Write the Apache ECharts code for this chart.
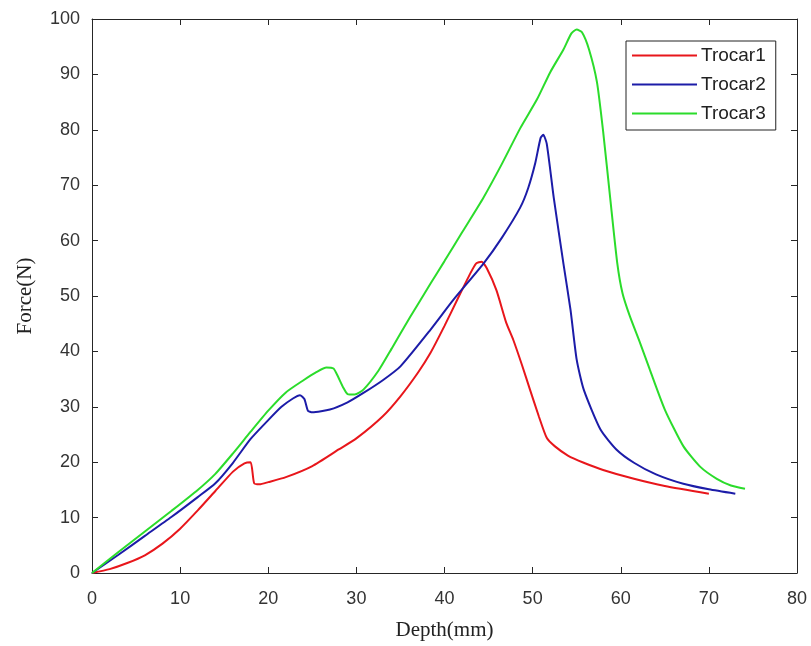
<!DOCTYPE html>
<html>
<head>
<meta charset="utf-8">
<script src="https://cdn.jsdelivr.net/npm/echarts@6/dist/echarts.min.js"></script>
<style>html,body{margin:0;padding:0;background:#fff}#c{width:811px;height:646px}</style>
</head>
<body>
<div id="c"></div>
<script>
var seriesNames = ['Trocar1', 'Trocar2', 'Trocar3'];
var xTicks = [0, 10, 20, 30, 40, 50, 60, 70, 80];
var yTicks = [0, 10, 20, 30, 40, 50, 60, 70, 80, 90, 100];

var trocar1Depth = [0, 2, 4, 6, 8, 10, 12, 14, 16, 17.3, 18, 18.4, 19, 20, 22, 25, 28, 30, 33, 35, 37, 38.4, 40, 41.5, 42.9, 43.6, 44.2, 44.8, 45.9, 47, 47.8, 48.8, 49.7, 50.7, 51.6, 52.5, 54, 55.8, 58, 61.5, 65, 70];
var trocar1Force = [0, 0.7, 1.8, 3.2, 5.3, 8, 11.3, 14.8, 18.3, 19.8, 20, 16.2, 16, 16.4, 17.3, 19.3, 22.3, 24.3, 28.3, 31.9, 36.2, 39.7, 44.6, 49.5, 54, 55.9, 56.2, 55, 51, 45.2, 42.1, 37.5, 33.1, 28.3, 24.4, 22.9, 21.2, 19.9, 18.6, 17, 15.7, 14.3];

var trocar2Depth = [0, 3, 6, 9, 12, 14, 16, 18, 20, 21.5, 22.8, 23.6, 24.1, 24.5, 25, 27, 29, 30.8, 33, 35, 38.4, 41, 44.4, 46.5, 48.6, 49.5, 50.3, 50.9, 51.2, 51.6, 52.4, 53.5, 54.3, 55, 55.8, 57.7, 59.5, 61.5, 64, 67.1, 70, 73];
var trocar2Force = [0, 3.3, 6.7, 10.1, 13.7, 16.2, 19.9, 24.2, 27.6, 30, 31.5, 32.1, 31.4, 29.3, 29, 29.5, 30.8, 32.5, 34.8, 37.3, 43.9, 49.3, 55.8, 60.5, 66, 69.5, 74, 78.5, 79.1, 77.5, 67.7, 55.8, 47.5, 38.5, 33.1, 25.9, 22.3, 19.9, 17.8, 16.1, 15.1, 14.3];

var trocar3Depth = [0, 3, 6, 9, 12, 14, 16, 18, 20, 22, 24, 25.5, 26.6, 27.4, 27.9, 28.5, 29, 29.8, 30.8, 32.5, 34, 36.1, 38.4, 40, 42, 44.4, 46.5, 48.6, 50.5, 52, 53.5, 54.4, 55, 55.6, 56.4, 57.3, 58, 58.8, 59.6, 60.2, 61, 62.2, 63.3, 65, 67.1, 69, 70.9, 72.5, 74.1];
var trocar3Force = [0, 3.8, 7.5, 11.2, 15, 17.9, 21.6, 25.5, 29.3, 32.6, 34.8, 36.3, 37.1, 36.9, 35.5, 33.5, 32.3, 32.2, 33.1, 36.5, 40.5, 46.2, 52.2, 56.3, 61.5, 67.7, 73.8, 80.3, 85.5, 90.4, 94.5, 97.4, 98.1, 97.6, 94.5, 88.6, 79.7, 67.7, 56, 50.5, 46.5, 41.5, 36.7, 29.5, 22.9, 19.2, 17, 15.8, 15.2];

function zip(a, b) { return a.map(function (v, i) { return [v, b[i]]; }); }

var colors = ['#e8161b', '#1c1ca8', '#2bdc2b'];
var depths = [trocar1Depth, trocar2Depth, trocar3Depth];
var forces = [trocar1Force, trocar2Force, trocar3Force];

var axisColor = '#262626';
var labelFont = { fontFamily: 'Liberation Sans', fontSize: 18, color: '#333' };

var chart = echarts.init(document.getElementById('c'), null, { renderer: 'canvas' });
chart.setOption({
  animation: false,
  backgroundColor: '#fff',
  grid: { left: 92, right: 14, top: 19, bottom: 68, containLabel: false },
  legend: {
    orient: 'vertical',
    left: 626, top: 41,
    data: seriesNames,
    backgroundColor: '#fff',
    borderColor: '#222', borderWidth: 1,
    padding: [5, 10, 7, 6],
    itemWidth: 65, itemHeight: 16, itemGap: 10,
    icon: 'path://M0,7 H65 V9 H0 Z',
    textStyle: { fontFamily: 'Liberation Sans', fontSize: 19, color: '#222', padding: [0, 0, 0, -1] }
  },
  xAxis: [{
    type: 'value', min: 0, max: 80, interval: 10,
    name: 'Depth(mm)', nameLocation: 'middle', nameGap: 47,
    nameTextStyle: { fontFamily: 'Liberation Serif', fontSize: 21, color: '#222' },
    axisLine: { show: true, onZero: false, lineStyle: { color: axisColor, width: 1 } },
    axisTick: { show: true, inside: true, length: 6, lineStyle: { color: axisColor } },
    axisLabel: Object.assign({ margin: 17, formatter: function (v) { return xTicks.indexOf(v) >= 0 ? String(v) : ''; } }, labelFont),
    splitLine: { show: false }
  }, {
    type: 'value', min: 0, max: 80, interval: 10, position: 'top',
    axisLine: { show: true, onZero: false, lineStyle: { color: axisColor, width: 1 } },
    axisTick: { show: true, inside: true, length: 6, lineStyle: { color: axisColor } },
    axisLabel: { show: false }, splitLine: { show: false }
  }],
  yAxis: [{
    type: 'value', min: 0, max: 100, interval: 10,
    name: 'Force(N)', nameLocation: 'middle', nameGap: 56,
    nameTextStyle: { fontFamily: 'Liberation Serif', fontSize: 21, color: '#222' },
    axisLine: { show: true, onZero: false, lineStyle: { color: axisColor, width: 1 } },
    axisTick: { show: true, inside: true, length: 6, lineStyle: { color: axisColor } },
    axisLabel: Object.assign({ margin: 12, formatter: function (v) { return yTicks.indexOf(v) >= 0 ? String(v) : ''; } }, labelFont),
    splitLine: { show: false }
  }, {
    type: 'value', min: 0, max: 100, interval: 10, position: 'right',
    axisLine: { show: true, onZero: false, lineStyle: { color: axisColor, width: 1 } },
    axisTick: { show: true, inside: true, length: 6, lineStyle: { color: axisColor } },
    axisLabel: { show: false }, splitLine: { show: false }
  }],
  series: seriesNames.map(function (n, i) {
    return {
      name: n, type: 'line', xAxisIndex: 0, yAxisIndex: 0,
      data: zip(depths[i], forces[i]),
      symbol: 'none', smooth: 0.2,
      lineStyle: { color: colors[i], width: 2 },
      itemStyle: { color: colors[i] }
    };
  })
});
</script>
</body>
</html>
